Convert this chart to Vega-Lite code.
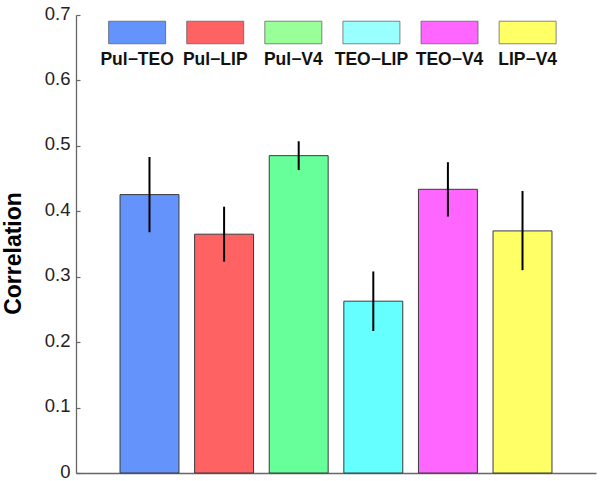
{
  "$schema": "https://vega.github.io/schema/vega-lite/v6.json",
  "width": 520,
  "height": 458,
  "autosize": {"type": "none"},
  "padding": {"left": 76, "top": 15, "right": 4, "bottom": 8},
  "background": "white",
  "config": {"view": {"stroke": null}, "font": "Liberation Sans"},
  "data": {"values": [
    {"pair": "Pul−TEO", "corr": 0.4255, "lo": 0.368, "hi": 0.483},
    {"pair": "Pul−LIP", "corr": 0.365, "lo": 0.323, "hi": 0.407},
    {"pair": "Pul−V4", "corr": 0.485, "lo": 0.463, "hi": 0.507},
    {"pair": "TEO−LIP", "corr": 0.2626, "lo": 0.217, "hi": 0.308},
    {"pair": "TEO−V4", "corr": 0.4336, "lo": 0.392, "hi": 0.475},
    {"pair": "LIP−V4", "corr": 0.370, "lo": 0.31, "hi": 0.431}
  ]},
  "resolve": {"scale": {"x": "independent", "color": "independent"}},
  "layer": [
    {
      "encoding": {
        "x": {"field": "pair", "type": "nominal", "sort": null,
              "scale": {"paddingInner": 0.21, "paddingOuter": 0.59},
              "axis": {"title": null, "labels": false, "ticks": false, "domain": true, "domainColor": "#666666", "domainWidth": 1.3, "grid": false}}
      },
      "layer": [
        {
          "mark": {"type": "bar", "stroke": "#3a3a3a", "strokeWidth": 1, "opacity": 1},
          "encoding": {
            "y": {"field": "corr", "type": "quantitative",
                  "scale": {"domain": [0, 0.7], "nice": false, "zero": true},
                  "axis": {"title": "Correlation", "values": [0, 0.1, 0.2, 0.3, 0.4, 0.5, 0.6, 0.7], "format": ".1~f",
                           "grid": false, "domainColor": "#666666", "domainWidth": 1.3,
                           "tickColor": "#666666", "tickSize": -4, "tickWidth": 1.2, "labelPadding": 10, "labelOffset": -2,
                           "labelFontSize": 18.5, "labelColor": "#222222", "labelFont": "Liberation Sans",
                           "titleFontSize": 23, "titleFontWeight": "bold", "titleColor": "#000000", "titleFont": "Liberation Sans",
                           "titleAngle": -90, "titleBaseline": "alphabetic", "titleX": -56, "titleY": 238, "titleAlign": "center"}},
            "color": {"field": "pair", "type": "nominal", "sort": null, "legend": null,
                      "scale": {"domain": ["Pul−TEO", "Pul−LIP", "Pul−V4", "TEO−LIP", "TEO−V4", "LIP−V4"],
                                "range": ["#6393fb", "#ff6262", "#66ff99", "#66ffff", "#ff66ff", "#ffff66"]}}
          }
        },
        {
          "mark": {"type": "rule", "color": "#000000", "strokeWidth": 2},
          "encoding": {
            "y": {"field": "lo", "type": "quantitative"},
            "y2": {"field": "hi"}
          }
        }
      ]
    },
    {
      "encoding": {
        "x": {"field": "pair", "type": "nominal", "sort": null,
              "scale": {"paddingInner": 0.27, "paddingOuter": 0.464, "align": 0.45},
              "axis": null}
      },
      "layer": [
        {
          "mark": {"type": "rect", "stroke": "#555555", "strokeOpacity": 0.7, "strokeWidth": 1},
          "encoding": {
            "y": {"datum": 0.6905, "type": "quantitative"},
            "y2": {"datum": 0.656},
            "color": {"field": "pair", "type": "nominal", "sort": null, "legend": null,
                      "scale": {"domain": ["Pul−TEO", "Pul−LIP", "Pul−V4", "TEO−LIP", "TEO−V4", "LIP−V4"],
                                "range": ["#6393fb", "#ff6262", "#99ff99", "#99ffff", "#ff66ff", "#ffff66"]}}
          }
        },
        {
          "mark": {"type": "text", "font": "Liberation Sans", "fontWeight": "bold", "fontSize": 17.5, "baseline": "alphabetic", "align": "center", "color": "#111111"},
          "encoding": {
            "y": {"datum": 0.624, "type": "quantitative"},
            "text": {"field": "pair"}
          }
        }
      ]
    }
  ]
}
